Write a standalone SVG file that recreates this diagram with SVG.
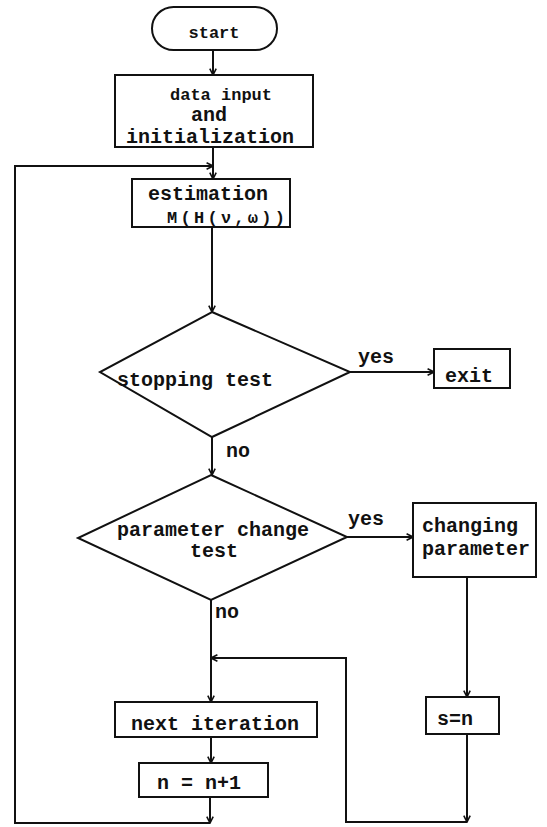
<svg xmlns="http://www.w3.org/2000/svg" width="547" height="827" viewBox="0 0 547 827">
<style>
.bg{fill:#ffffff}
.node{fill:#ffffff;stroke:#111;stroke-width:2}
.edge{fill:none;stroke:#111;stroke-width:2}
.t{font-family:"Liberation Mono","DejaVu Sans Mono",monospace;font-size:20px;fill:#111;font-weight:bold}
.s{font-size:17px}
.m{font-size:17px}
</style>
<defs>
<marker id="arr" viewBox="0 0 10 10" refX="9" refY="5" markerWidth="8" markerHeight="8" markerUnits="userSpaceOnUse" orient="auto">
<path d="M1,1 L9,5 L1,9" fill="none" stroke="#111" stroke-width="2"/>
</marker>
</defs>
<rect class="bg" x="0" y="0" width="547" height="827"/>
<g id="connectors">
<path class="edge" d="M213,50 L213,75" marker-end="url(#arr)"/>
<path class="edge" d="M213,147 L213,179" marker-end="url(#arr)"/>
<path class="edge" d="M212,227 L212,312" marker-end="url(#arr)"/>
<path class="edge" d="M350,372 L434,372" marker-end="url(#arr)"/>
<path class="edge" d="M212,437 L212,475" marker-end="url(#arr)"/>
<path class="edge" d="M347,537 L413,537" marker-end="url(#arr)"/>
<path class="edge" d="M211,600 L211,702" marker-end="url(#arr)"/>
<path class="edge" d="M467,577 L467,697" marker-end="url(#arr)"/>
<path class="edge" d="M467,734 L467,822" marker-end="url(#arr)"/>
<path class="edge" d="M467,822 L346,822 L346,658 L211,658" marker-end="url(#arr)"/>
<path class="edge" d="M211,737 L211,763" marker-end="url(#arr)"/>
<path class="edge" d="M210,797 L210,823" marker-end="url(#arr)"/>
<path class="edge" d="M210,823 L15,823 L15,166 L213,166" marker-end="url(#arr)"/>
<text class="t" x="358" y="363">yes</text>
<text class="t" x="226" y="457">no</text>
<text class="t" x="348" y="525">yes</text>
<text class="t" x="215" y="618">no</text>
</g>
<g id="start">
<rect class="node" x="152" y="7" width="125" height="43" rx="21.5"/>
<text class="t s" x="214" y="38" text-anchor="middle">start</text>
</g>
<g id="data-input">
<rect class="node" x="115" y="75" width="198" height="72"/>
<text class="t s" x="221" y="100" text-anchor="middle">data input</text>
<text class="t" x="209" y="121" text-anchor="middle">and</text>
<text class="t" x="210" y="143" text-anchor="middle">initialization</text>
</g>
<g id="estimation">
<rect class="node" x="132" y="179" width="158" height="48"/>
<text class="t" x="208" y="200" text-anchor="middle">estimation</text>
<text class="t m" x="167" y="223" textLength="118">M(H(ν,ω))</text>
</g>
<g id="stopping-test">
<polygon class="node" points="212,312 350,372 212,437 100,372"/>
<text class="t" x="195" y="386" text-anchor="middle">stopping test</text>
</g>
<g id="exit">
<rect class="node" x="434" y="349" width="76" height="39"/>
<text class="t" x="469" y="382" text-anchor="middle">exit</text>
</g>
<g id="parameter-change-test">
<polygon class="node" points="211,475 347,537 211,600 78,538"/>
<text class="t" x="213" y="536" text-anchor="middle">parameter change</text>
<text class="t" x="214" y="557" text-anchor="middle">test</text>
</g>
<g id="changing-parameter">
<rect class="node" x="413" y="503" width="123" height="74"/>
<text class="t" x="422" y="532">changing</text>
<text class="t" x="422" y="555">parameter</text>
</g>
<g id="s-eq-n">
<rect class="node" x="426" y="697" width="73" height="37"/>
<text class="t" x="437" y="725">s=n</text>
</g>
<g id="next-iteration">
<rect class="node" x="115" y="702" width="202" height="35"/>
<text class="t" x="215" y="730" text-anchor="middle">next iteration</text>
</g>
<g id="n-plus-1">
<rect class="node" x="139" y="763" width="129" height="34"/>
<text class="t" x="199" y="789" text-anchor="middle">n = n+1</text>
</g>
</svg>
